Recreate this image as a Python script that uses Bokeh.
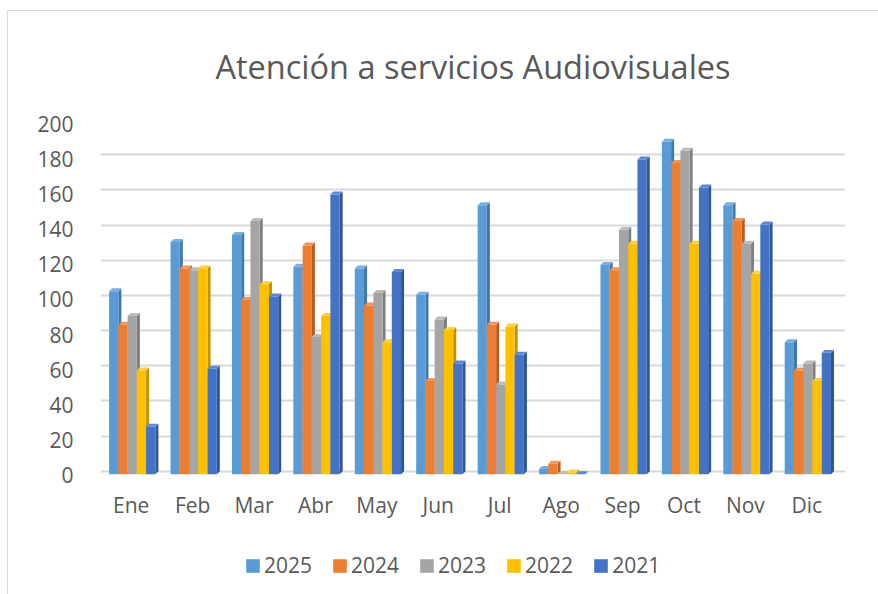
from bokeh.plotting import figure
from bokeh.models import (Range1d, FixedTicker, LinearAxis, Grid,
                          Legend, LegendItem, Spacer)
from bokeh.layouts import row, column
from bokeh.embed import file_html
from bokeh.resources import INLINE

months = ["Ene", "Feb", "Mar", "Abr", "May", "Jun", "Jul", "Ago", "Sep", "Oct", "Nov", "Dic"]
years = ["2025", "2024", "2023", "2022", "2021"]
v2025 = [104, 132, 136, 118, 117, 102, 153, 3, 119, 189, 153, 75]
v2024 = [85, 117, 99, 130, 96, 53, 85, 6, 116, 177, 144, 59]
v2023 = [90, 116, 144, 78, 103, 88, 51, 0, 139, 184, 131, 63]
v2022 = [59, 117, 108, 90, 75, 82, 84, 1, 131, 131, 114, 53]
v2021 = [27, 60, 101, 159, 115, 63, 68, 0, 179, 163, 142, 69]
y_ticks = [0, 20, 40, 60, 80, 100, 120, 140, 160, 180, 200]
title_text = "Atención a servicios Audiovisuales"

series = [v2025, v2024, v2023, v2022, v2021]
face_colors = ["#5B9BD5", "#ED7D31", "#A5A5A5", "#FFC000", "#4472C4"]
side_colors = ["#3F78AD", "#B95D1F", "#7F7F7F", "#C29200", "#2F5597"]
cap_colors = ["#79AEE0", "#F19558", "#BBBBBB", "#FFCF40", "#5F88D2"]

FONT = "Open Sans"
TXT = "#595959"
BORDER = {"border-left": "1px solid #D9D9D9"}

W, H = 871, 520
x_range = Range1d(-0.5, 11.63)
y_range = Range1d(-3, 200)

p = figure(width=W, height=H, x_range=x_range, y_range=y_range,
           output_backend="svg", toolbar_location=None,
           x_axis_location=None, y_axis_location=None,
           min_border_left=92, min_border_right=34, min_border_top=107,
           min_border_bottom=55,
           styles={"border-left": "1px solid #D9D9D9", "border-top": "1px solid #D9D9D9"})
p.outline_line_color = None
p.grid.visible = False
p.background_fill_color = "white"
p.border_fill_color = "white"

p.title.text = title_text
p.title.align = "center"
p.title.text_font = FONT
p.title.text_font_size = "32.5px"
p.title.text_font_style = "normal"
p.title.text_color = TXT
p.title.standoff = 61

p.add_layout(Grid(dimension=1, ticker=FixedTicker(ticks=y_ticks),
                  grid_line_color="#D9D9D9", grid_line_width=2))

pitch = 0.1507
shift = 0.017
dx = 0.049
d = 1.7

for k, vals in enumerate(series):
    xl, xr, xs_side, ys_side, xs_cap, ys_cap, tops, bots = [], [], [], [], [], [], [], []
    for i, v in enumerate(vals):
        c = i + (k - 2) * pitch + shift
        l, r = c - pitch / 2, c + pitch / 2
        xl.append(l); xr.append(r)
        tops.append(v - d); bots.append(-d)
        xs_side.append([r, r + dx, r + dx, r])
        ys_side.append([-d, 0, v, v - d])
        xs_cap.append([l, l + dx, r + dx, r])
        ys_cap.append([v - d, v, v, v - d])
    p.patches(xs_side, ys_side, fill_color=side_colors[k], line_color=None)
    p.quad(left=xl, right=xr, bottom=bots, top=tops,
           fill_color=face_colors[k], line_color=None)
    p.patches(xs_cap, ys_cap, fill_color=cap_colors[k], line_color=None)

# y axis on a shifted range so labels sit like the reference
p.extra_y_ranges = {"lab": Range1d(-3 + 2.3, 200 + 2.3)}
yax = LinearAxis(y_range_name="lab", ticker=FixedTicker(ticks=y_ticks))
yax.axis_line_color = None
yax.major_tick_line_color = None
yax.minor_tick_line_color = None
yax.major_label_standoff = 21
yax.major_label_text_font = FONT
yax.major_label_text_font_size = "21px"
yax.major_label_text_color = TXT
p.add_layout(yax, "left")

xax = LinearAxis(ticker=FixedTicker(ticks=list(range(len(months)))))
xax.major_label_overrides = {i: m for i, m in enumerate(months)}
xax.axis_line_color = None
xax.major_tick_line_color = None
xax.minor_tick_line_color = None
xax.major_label_standoff = 8
xax.major_label_text_font = FONT
xax.major_label_text_font_size = "21px"
xax.major_label_text_color = TXT
p.add_layout(xax, "below")

# legend strip under the chart (swatch renderers have zero size)
p2 = figure(width=W, height=64, x_range=Range1d(0, 1), y_range=Range1d(0, 1),
            output_backend="svg", toolbar_location=None,
            x_axis_location=None, y_axis_location=None,
            min_border=0, min_border_left=0, min_border_right=0,
            min_border_top=0, min_border_bottom=0, styles=BORDER)
p2.outline_line_color = None
p2.grid.visible = False
items = []
for k, y in enumerate(years):
    r = p2.quad(left=[5], right=[5], top=[5], bottom=[5],
                fill_color=face_colors[k], line_color=None)
    items.append(LegendItem(label=y, renderers=[r]))
legend = Legend(items=items, orientation="horizontal",
                location=(144, 15), glyph_width=17, glyph_height=17,
                label_standoff=3, spacing=19, padding=0, margin=0,
                border_line_color=None, background_fill_alpha=0,
                label_text_font=FONT, label_text_font_size="21px",
                label_text_color=TXT)
p2.add_layout(legend)

layout = column(Spacer(height=10), row(Spacer(width=7), column(p, p2, spacing=0)), spacing=0)
open("out.html", "w").write(file_html(layout, INLINE))
